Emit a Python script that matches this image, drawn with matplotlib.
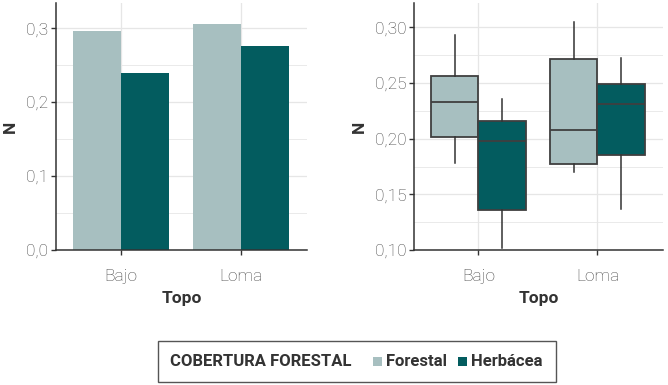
import matplotlib
matplotlib.use("Agg")
import matplotlib.pyplot as plt
from matplotlib.patches import Patch, Rectangle
from matplotlib.ticker import MultipleLocator, FuncFormatter

plt.rcParams['font.family'] = ['Roboto', 'DejaVu Sans']

# data
topo = ['Bajo', 'Loma']
cobertura = ['Forestal', 'Herbácea']
colors = {'Forestal': '#a7bfc0', 'Herbácea': '#035c5f'}

bar_forestal = [0.296, 0.306]
bar_herbacea = [0.240, 0.276]

# boxplot stats per topo: whisker low, q1, median, q3, whisker high
box_forestal_lo = [0.178, 0.170]
box_forestal_q1 = [0.202, 0.177]
box_forestal_med = [0.233, 0.208]
box_forestal_q3 = [0.256, 0.272]
box_forestal_hi = [0.293, 0.305]

box_herbacea_lo = [0.102, 0.137]
box_herbacea_q1 = [0.136, 0.185]
box_herbacea_med = [0.198, 0.231]
box_herbacea_q3 = [0.216, 0.249]
box_herbacea_hi = [0.236, 0.273]

W, H = 668, 385
fig = plt.figure(figsize=(W / 100, H / 100), dpi=100)

def px_axes(x0, y0, x1, y1):
    return fig.add_axes([x0 / W, 1 - y1 / H, (x1 - x0) / W, (y1 - y0) / H])

ax1 = px_axes(56, 3, 307, 250)
ax2 = px_axes(414, 3, 663, 250)

grid_col = '#e6e6e6'
text_col = '#444444'
dark = '#333333'

def style(ax, fmt):
    for s in ['top', 'right']:
        ax.spines[s].set_visible(False)
    for s in ['left', 'bottom']:
        ax.spines[s].set_color(dark)
        ax.spines[s].set_linewidth(1.1)
    ax.set_xticks([1, 2])
    ax.set_xticklabels(topo)
    ax.yaxis.set_major_formatter(FuncFormatter(lambda v, p: (fmt % v).replace('.', ',')))
    ax.grid(True, which='major', color=grid_col, linewidth=0.9)
    ax.grid(True, which='minor', axis='y', color=grid_col, linewidth=0.6)
    ax.set_axisbelow(True)
    ax.tick_params(which='major', length=3.5, width=1.0, color=dark,
                   labelsize=12.5, labelcolor=text_col)
    ax.tick_params(axis='x', pad=10.5)
    ax.tick_params(axis='y', pad=2)
    ax.tick_params(which='minor', length=0)
    for lab in ax.get_xticklabels() + ax.get_yticklabels():
        lab.set_fontweight('light')
    ax.set_xlabel('Topo', fontsize=12.5, fontweight='bold', color=dark, labelpad=5)
    ax.set_ylabel('N', fontsize=12.5, fontweight='bold', color=dark, labelpad=6)
    ax.set_xlim(0.46, 2.55)

# left: bars
w = 0.4
x = [1, 2]
ax1.bar([i - w / 2 for i in x], bar_forestal, width=w, color=colors['Forestal'])
ax1.bar([i + w / 2 for i in x], bar_herbacea, width=w, color=colors['Herbácea'])
ax1.set_ylim(0, 0.334)
ax1.yaxis.set_major_locator(MultipleLocator(0.1))
ax1.yaxis.set_minor_locator(MultipleLocator(0.05))
style(ax1, '%.1f')

# right: boxplots
def stats(lo, q1, med, q3, hi):
    return [dict(whislo=a, q1=b, med=c, q3=d, whishi=e, fliers=[])
            for a, b, c, d, e in zip(lo, q1, med, q3, hi)]

groups = [
    (stats(box_forestal_lo, box_forestal_q1, box_forestal_med, box_forestal_q3, box_forestal_hi),
     -w / 2, colors['Forestal']),
    (stats(box_herbacea_lo, box_herbacea_q1, box_herbacea_med, box_herbacea_q3, box_herbacea_hi),
     w / 2, colors['Herbácea']),
]
edge = '#3f3f3f'
for st, off, col in groups:
    ax2.bxp(st, positions=[i + off for i in x], widths=w, patch_artist=True,
            showcaps=False, showfliers=False, manage_ticks=False,
            boxprops=dict(facecolor=col, edgecolor=edge, linewidth=1.3),
            medianprops=dict(color=edge, linewidth=1.3),
            whiskerprops=dict(color=dark, linewidth=1.1))
ax2.set_ylim(0.10, 0.322)
ax2.yaxis.set_major_locator(MultipleLocator(0.05))
ax2.yaxis.set_minor_locator(MultipleLocator(0.025))
style(ax2, '%.2f')

# legend
fig.patches.append(Rectangle((158 / W, 1 - 382 / H), (556 - 158) / W, (382 - 341) / H,
                             transform=fig.transFigure, fill=False,
                             edgecolor='#555555', linewidth=1.0))
fig.text(170 / W, 1 - 362 / H, 'COBERTURA FORESTAL', fontsize=12, fontweight='bold',
         color=dark, va='center', ha='left')
handles = [Patch(facecolor=colors[c], edgecolor='none', label=c) for c in cobertura]
leg = fig.legend(handles=handles, loc='center left', bbox_to_anchor=(373 / W, 1 - 362 / H),
                 ncol=2, frameon=False, handlelength=0.65, handleheight=0.65,
                 handletextpad=0.3, columnspacing=0.75, borderaxespad=0, borderpad=0)
for t in leg.get_texts():
    t.set_fontsize(12)
    t.set_fontweight('bold')
    t.set_color(dark)

fig.savefig('out.png', dpi=100)
